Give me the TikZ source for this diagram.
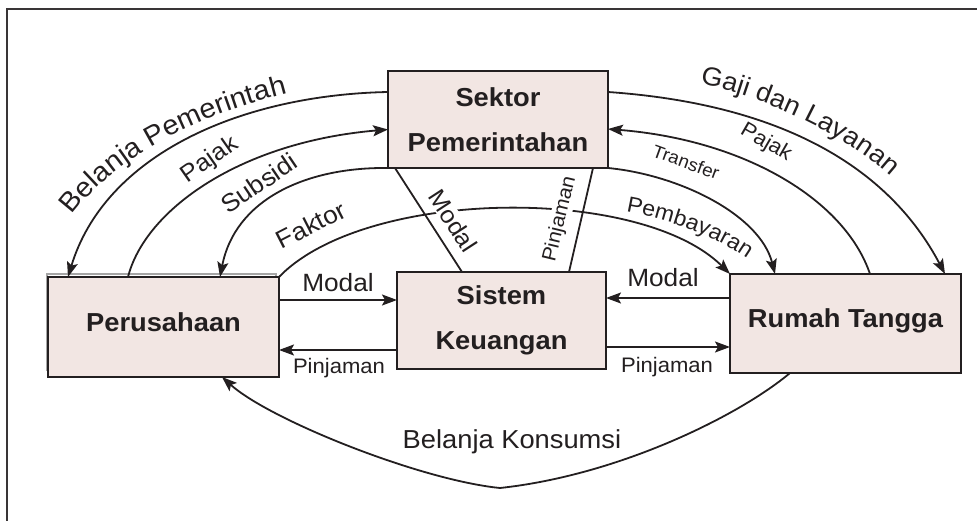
\documentclass[tikz,border=0pt]{standalone}
\usepackage{fontspec}
\setmainfont{Liberation Sans}[FakeStretch=1.05]
\usetikzlibrary{arrows.meta,calc,decorations.text}

\definecolor{boxfill}{RGB}{242,230,227}
\definecolor{ink}{RGB}{35,31,32}

\begin{document}
\begin{tikzpicture}[x=1pt,y=-1pt,
  sector/.style={draw=ink, line width=2.4pt, fill=boxfill, inner sep=0pt, outer sep=0pt,
    align=center, text=ink, font=\fontsize{26}{45}\selectfont\bfseries},
  flow/.style={draw=ink, line width=1.8pt, -{Stealth[length=15pt,width=11pt,inset=3pt]}},
  plain/.style={draw=ink, line width=1.8pt},
  lab/.style={text=ink, inner sep=1pt, font=\fontsize{#1}{#1}\selectfont},
  arclab/.style={decorate, decoration={text along path, text align=left, text color=ink, text={#1}}},
]
\useasboundingbox (0,0) rectangle (977,521);

% outer frame (only its top and left sides fall inside the page)
\draw[draw=ink!90, line width=2.4pt] (7,9) rectangle (1010,560);

% sectors
\draw[gray!70, line width=2pt] (47,274) rectangle (276,370);
\node[sector, minimum width=220pt, minimum height=97pt] (sek) at (498,119.5) {Sektor\\Pemerintahan};
\node[sector, minimum width=231pt, minimum height=100pt, text depth=10pt] (per) at (163.5,327) {Perusahaan};
\node[sector, minimum width=209pt, minimum height=97pt] (sis) at (501.5,320.5) {Sistem\\Keuangan};
\node[sector, minimum width=231pt, minimum height=99pt, text depth=10pt] (rum) at (845.5,323.5) {Rumah Tangga};

% government flows, left side
\draw[flow] ([yshift=27.5pt]sek.west) .. controls (240,95) and (105,155) .. ([xshift=20pt]per.north west);
\draw[flow] ([xshift=80pt]per.north west) .. controls (145,210) and (240,142) .. ([yshift=-10pt]sek.west);
\draw[flow] (sek.south west) .. controls (305,167) and (235,200) .. ([xshift=172pt]per.north west);

% factor / payment flow between firms and households
\draw[flow] (per.north east) .. controls (365,188) and (640,185) .. (rum.north west);

% government flows, right side
\draw[flow] ([yshift=27.5pt]sek.east) .. controls (780,104) and (888,166) .. ([xshift=-16pt]rum.north east);
\draw[flow] ([xshift=140pt]rum.north west) .. controls (845,200) and (745,140) .. ([yshift=-9.5pt]sek.east);
\draw[flow] (sek.south east) .. controls (680,175) and (760,215) .. ([xshift=45pt]rum.north west);

% links between government and the financial system
\draw[plain] ([xshift=7pt]sek.south west) -- ([xshift=65pt]sis.north west);
\draw[plain] ([xshift=-15pt]sek.south east) -- ([xshift=172pt]sis.north west);

% financial system flows
\draw[flow] ([yshift=27pt]per.east) -- ([yshift=27pt]per.east -| sis.west);
\draw[flow] ([yshift=-29.5pt]sis.west) -- ([yshift=-29.5pt]sis.west -| per.east);
\draw[flow] ([yshift=25.5pt]rum.west) -- ([yshift=25.5pt]rum.west -| sis.east);
\draw[flow] ([yshift=-26.5pt]sis.east) -- ([yshift=-26.5pt]sis.east -| rum.west);

% consumption spending
\coordinate (bk) at (500,488);
\draw[flow] ([xshift=60pt]rum.south west) .. controls (740,415) and (620,475) .. (bk)
  .. controls (420,480) and (270,420) .. ([xshift=58.5pt]per.south);

% labels
\node[lab=25] (lmodalA) at (338,283) {Modal};
\node[lab=21] (lpinjA) at (339,368) {Pinjaman};
\node[lab=25] (lmodalB) at (663,278) {Modal};
\node[lab=21] (lpinjB) at (667,367) {Pinjaman};
\node[lab=26, fill=white, inner sep=4pt] (lbk) at (512,442) {Belanja Konsumsi};
\node[lab=24, rotate=35] (lpajakA) at (210,160) {Pajak};
\node[lab=25, rotate=34] (lsubsidi) at (259,183) {Subsidi};
\node[lab=25, rotate=27] (lfaktor) at (311,225) {Faktor};
\node[lab=21, rotate=-30] (lpajakB) at (766,143) {Pajak};
\node[lab=18, rotate=-20] (ltransfer) at (686,162) {Transfer};
\node[lab=24, rotate=-57, fill=white] (lmodalC) at (453,221) {Modal};
\node[lab=20, rotate=76.5, fill=white] (lpinjC) at (560,219) {Pinjaman};

\path[arclab={|\fontsize{27.5}{27.5}\selectfont|Belanja Pemerintah}]
  (72,215) .. controls (112,162) and (185,118) .. (300,90);
\path[arclab={|\fontsize{26}{26}\selectfont|Gaji dan Layanan}]
  (700,84) .. controls (750,92) and (845,132) .. (895,180);
\path[arclab={|\fontsize{22}{22}\selectfont|Pembayaran}]
  (626,212) .. controls (670,220) and (715,235) .. (752,262);
\end{tikzpicture}
\end{document}
